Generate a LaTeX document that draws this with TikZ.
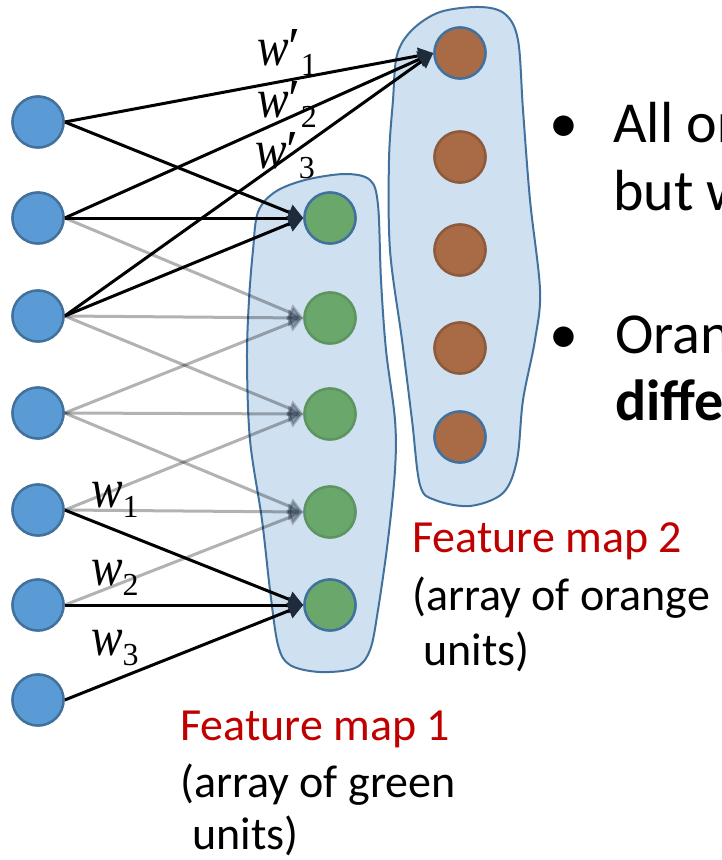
\documentclass[tikz,border=0pt]{standalone}
\usepackage{fontspec}
\setmainfont{Carlito}
\newfontfamily\wfont{Liberation Serif}
\usetikzlibrary{arrows.meta}
\definecolor{inblue}{HTML}{5B9BD5}
\definecolor{edgeblue}{HTML}{41719C}
\definecolor{ugreen}{HTML}{6AA76B}
\definecolor{ugreenedge}{HTML}{5E9460}
\definecolor{ubrown}{HTML}{A86B46}
\definecolor{ubrownedge}{HTML}{8E5A3C}
\definecolor{blobfill}{HTML}{CFE0F1}
\definecolor{tipnavy}{HTML}{1D2B3B}
\definecolor{fmred}{HTML}{C00000}
\newcommand{\wtxt}[2]{\scalebox{0.86}[1]{\itshape w}#1\raisebox{-10pt}{\fontsize{32}{36}\selectfont #2}}
\begin{document}
\begin{tikzpicture}[x=1pt,y=-1pt,
  unit/.style={circle, minimum size=51pt, inner sep=0pt, line width=2.4pt},
  inunit/.style={unit, fill=inblue, draw=edgeblue},
  gunit/.style={unit, fill=ugreen, draw=ugreenedge},
  gunitb/.style={unit, fill=ugreen, draw=edgeblue},
  bunit/.style={unit, fill=ubrown, draw=ubrownedge},
  bunitb/.style={unit, fill=ubrown, draw=edgeblue},
  conn/.style={line width=3pt, -{Triangle[length=15pt,width=16pt,color=tipnavy]}},
  faint/.style={conn, opacity=0.3},
  blob/.style={fill=blobfill, draw=edgeblue, line width=2pt},
  wlab/.style={anchor=base west, inner sep=0pt, font=\wfont\fontsize{55}{62}\selectfont},
  captext/.style={anchor=base west, inner sep=0pt, font=\fontsize{46}{55}\selectfont},
  rtext/.style={anchor=base west, inner sep=0pt, font=\fontsize{58}{68}\selectfont},
]
\useasboundingbox (0,0) rectangle (722,860);
\clip (0,0) rectangle (722,860);

% feature map blobs
\draw[blob] plot[smooth cycle, tension=0.55] coordinates {
  (253,250) (258,212) (275,192) (305,180) (345,174) (370,180) (378,205)
  (381,280) (386,350) (395,420) (395,470) (388,540) (378,610) (370,650)
  (355,668) (320,672) (290,665) (278,645) (270,590) (262,520) (250,440)
  (247,360) (249,300)};
\draw[blob] plot[smooth cycle, tension=0.55] coordinates {
  (393,100) (397,55) (412,30) (440,12) (480,7) (505,14) (518,40)
  (523,110) (530,200) (540,290) (535,340) (523,400) (517,460) (503,493)
  (470,506) (435,500) (420,485) (412,420) (402,340) (390,250) (389,160)};

% input units
\foreach \i/\y in {1/122,2/218,3/316,4/413,5/510,6/605,7/700}
  \node[inunit] (i\i) at (38,\y) {};
% green units
\node[gunitb] (g1) at (330,218) {};
\node[gunit]  (g2) at (330,318) {};
\node[gunit]  (g3) at (330,414) {};
\node[gunit]  (g4) at (330,512) {};
\node[gunitb] (g5) at (330,605) {};
% brown units
\node[bunitb] (o1) at (460,53) {};
\node[bunit]  (o2) at (460,157) {};
\node[bunit]  (o3) at (460,250) {};
\node[bunit]  (o4) at (460,348) {};
\node[bunitb] (o5) at (460,437) {};

% faint connections
\draw[faint] (i2.east) -- (g2.west);
\draw[faint] (i3.east) -- (g2.west);
\draw[faint] (i4.east) -- (g2.west);
\draw[faint] (i3.east) -- (g3.west);
\draw[faint] (i4.east) -- (g3.west);
\draw[faint] (i5.east) -- (g3.west);
\draw[faint] (i4.east) -- (g4.west);
\draw[faint] (i5.east) -- (g4.west);
\draw[faint] (i6.east) -- (g4.west);

% highlighted connections
\draw[conn] (i1.east) -- (g1.west);
\draw[conn] (i2.east) -- (g1.west);
\draw[conn] (i3.east) -- (g1.west);
\draw[conn] (i1.east) -- (o1.west);
\draw[conn] (i2.east) -- (o1.west);
\draw[conn] (i3.east) -- (o1.west);
\draw[conn] (i5.east) -- (g5.west);
\draw[conn] (i6.east) -- (g5.west);
\draw[conn] (i7.east) -- (g5.west);

% redraw units on top
\foreach \i/\y in {1/122,2/218,3/316,4/413,5/510,6/605,7/700}
  \node[inunit] at (38,\y) {};
\node[gunitb] at (330,218) {};
\node[gunit]  at (330,318) {};
\node[gunit]  at (330,414) {};
\node[gunit]  at (330,512) {};
\node[gunitb] at (330,605) {};
\node[bunitb] at (460,53) {};
\node[bunit]  at (460,157) {};
\node[bunit]  at (460,250) {};
\node[bunit]  at (460,348) {};
\node[bunitb] at (460,437) {};

% weight labels
\node[wlab] (wp1) at (257,65) {\wtxt{′}{1}};
\node[wlab] (wp2) at (257,117) {\wtxt{′}{2}};
\node[wlab] (wp3) at (255,168) {\wtxt{′}{3}};
\node[wlab] (w1) at (91,507) {\wtxt{}{1}};
\node[wlab] (w2) at (91,585) {\wtxt{}{2}};
\node[wlab] (w3) at (91,655) {\wtxt{}{3}};

% captions
\node[captext, text=fmred] (fm2) at (412,552) {Feature map 2};
\node[captext] (fm2a) at (412,610) {(array of orange};
\node[captext] (fm2b) at (423,665) {units)};
\node[captext, text=fmred] (fm1) at (180,740) {Feature map 1};
\node[captext] (fm1a) at (180,797) {(array of green};
\node[captext] (fm1b) at (192,849) {units)};

% bullet text (cut at the right edge)
\node[rtext] (bu1) at (549,142) {•};
\node[rtext] (t1a) at (613,142) {All orange units compute the same function};
\node[rtext] (t1b) at (613,210) {but with a different input window};
\node[rtext] (bu2) at (549,353) {•};
\node[rtext] (t2a) at (615,353) {Orange and green units compute};
\node[rtext] (t2b) at (615,420) {\textbf{different} functions};
\end{tikzpicture}
\end{document}
